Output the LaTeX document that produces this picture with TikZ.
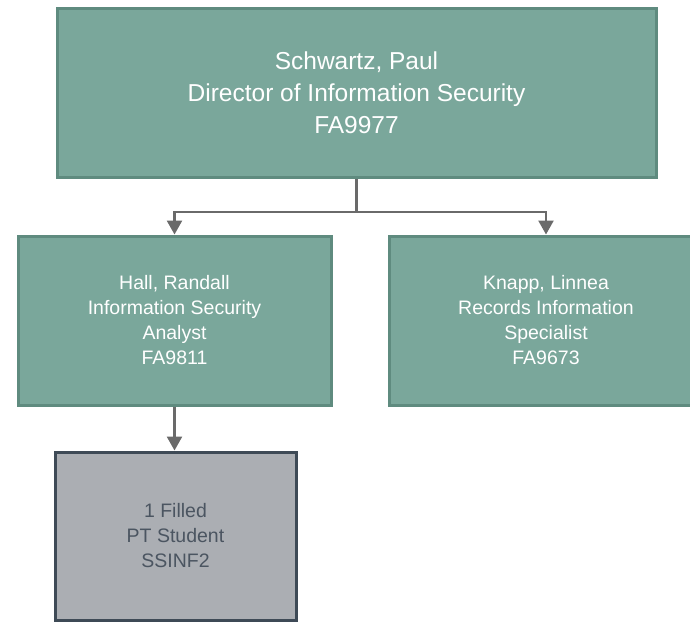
\documentclass[tikz,border=0pt]{standalone}
\usepackage{fontspec}
\setmainfont{Liberation Sans}
\usepackage{tikz}
\usetikzlibrary{arrows.meta}

\definecolor{boxgreen}{HTML}{7AA79B}
\definecolor{edgegreen}{HTML}{5F8B7F}
\definecolor{boxgray}{HTML}{ABAEB3}
\definecolor{edgegray}{HTML}{3E4A56}
\definecolor{txtgray}{HTML}{4B5561}
\definecolor{linkgray}{HTML}{6A6A6A}

\tikzset{
	posbox/.style={rectangle,draw=edgegreen,fill=boxgreen,line width=3pt,text=white,align=center,
		font=\fontsize{19.5}{25}\selectfont},
	topbox/.style={posbox,minimum width=599pt,minimum height=169pt,font=\fontsize{24.5}{32}\selectfont},
	subbox/.style={posbox,minimum width=313pt,minimum height=169pt},
	vacbox/.style={rectangle,draw=edgegray,fill=boxgray,line width=3pt,text=txtgray,align=center,
		minimum width=241pt,minimum height=168pt,font=\fontsize{19.5}{25}\selectfont},
	link/.style={draw=linkgray,line width=2.5pt,-{Triangle[width=15pt,length=14pt]}}
}

\begin{document}
\begin{tikzpicture}[x=1pt,y=-1pt]
	\useasboundingbox (0,0) rectangle (690,625);
	\node[topbox] (dir) at (356.5,92.5) {Schwartz, Paul\\Director of Information Security\\FA9977};
	\node[subbox] (hall) at (174.5,320.5) {Hall, Randall\\Information Security\\Analyst\\FA9811};
	\node[subbox] (knapp) at (546,320.5) {Knapp, Linnea\\Records Information\\Specialist\\FA9673};
	\node[vacbox] (stud) at (175.5,536) {1 Filled\\PT Student\\SSINF2};
	% connectors
	\coordinate (fork) at (356.5,212);
	\draw[draw=linkgray,line width=2.5pt] (dir.south) -- (fork);
	\draw[link] (fork) -| (hall.north);
	\draw[link] (fork) -| (knapp.north);
	\draw[link] (hall.south) -- (hall.south |- stud.north);
\end{tikzpicture}
\end{document}
